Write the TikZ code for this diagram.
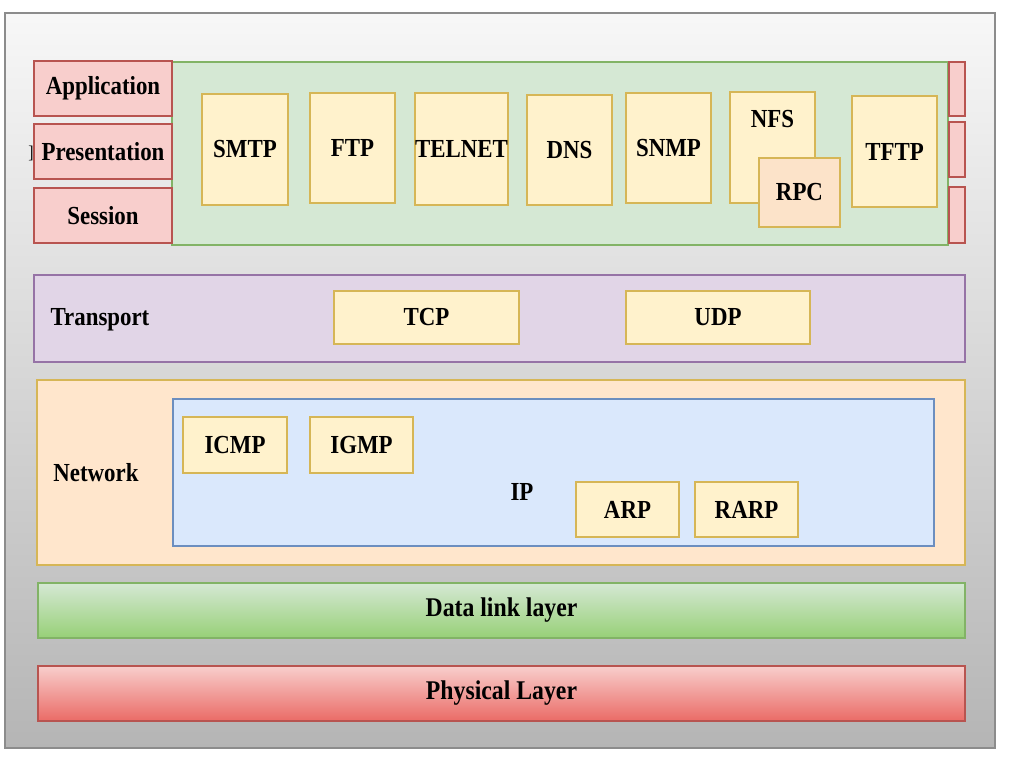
\documentclass[tikz,border=0pt]{standalone}
\usepackage{fontspec}
\setmainfont{Liberation Serif}[FakeStretch=0.88]
\usetikzlibrary{positioning, fit, calc}
\definecolor{appgreen}{HTML}{D5E8D4}
\definecolor{appgreenline}{HTML}{82B366}
\definecolor{osired}{HTML}{F8CECC}
\definecolor{osiredline}{HTML}{B85450}
\definecolor{protoyellow}{HTML}{FFF2CC}
\definecolor{protoline}{HTML}{D6B656}
\definecolor{rpcorange}{HTML}{FCE3C9}
\definecolor{transviolet}{HTML}{E1D5E7}
\definecolor{transline}{HTML}{9673A6}
\definecolor{netorange}{HTML}{FFE6CC}
\definecolor{ipblue}{HTML}{DAE8FC}
\definecolor{ipline}{HTML}{6C8EBF}
\definecolor{linkgreen}{HTML}{97D077}
\definecolor{physred}{HTML}{EA6B66}
\begin{document}
\begin{tikzpicture}[
    x=0.5pt, y=-0.5pt,
    font=\bfseries\fontsize{13}{15}\selectfont,
    frame/.style={rectangle, inner sep=0pt, draw=black!45, line width=0.6pt,
        top color=black!3, bottom color=black!29},
    appbox/.style={rectangle, inner sep=0pt, draw=appgreenline, fill=appgreen, line width=0.6pt},
    osi/.style={rectangle, inner sep=0pt, draw=osiredline, fill=osired, line width=0.6pt},
    proto/.style={rectangle, inner sep=0pt, draw=protoline, fill=protoyellow, line width=0.6pt},
    rpcbox/.style={rectangle, inner sep=0pt, draw=protoline, fill=rpcorange, line width=0.8pt},
    transbox/.style={rectangle, inner sep=0pt, draw=transline, fill=transviolet, line width=0.6pt},
    netbox/.style={rectangle, inner sep=0pt, draw=protoline, fill=netorange, line width=0.8pt},
    ipbox/.style={rectangle, inner sep=0pt, draw=ipline, fill=ipblue, line width=0.6pt},
    linkbox/.style={rectangle, inner sep=0pt, draw=appgreenline, line width=0.6pt,
        top color=appgreen, bottom color=linkgreen},
    physbox/.style={rectangle, inner sep=0pt, draw=osiredline, line width=0.6pt,
        top color=osired, bottom color=physred},
    big/.style={font=\bfseries\fontsize{13.5}{16}\selectfont},
]
\useasboundingbox (0,0) rectangle (1024,768);
\node[frame, fit={(5,13) (995,748)}] (frame) {};

% application, presentation, session
\node[appbox, fit={(172,62) (948,245)}] (app) {};
\foreach \n/\ya/\yb/\t in {appl/61/116/Application, pres/124/179/Presentation, sess/188/243/Session} {
    \node[osi, fit={(34,\ya) (172,\yb)}, label=center:\t] (\n) {};
}
\node[font=\fontsize{9}{10}\selectfont] (brk) at (31,153) {]};
\foreach \i/\ya/\yb in {1/62/116, 2/122/177, 3/187/243} {
    \node[osi, fit={(949,\ya) (965,\yb)}] (stub\i) {};
}
\foreach \n/\xa/\ya/\xb/\yb/\t in {smtp/202/94/288/205/SMTP, ftp/310/93/395/203/FTP,
    telnet/415/93/508/205/TELNET, dns/527/95/612/205/DNS, snmp/626/93/711/203/SNMP,
    tftp/852/96/937/207/TFTP} {
    \node[proto, fit={(\xa,\ya) (\xb,\yb)}, label=center:\t] (\n) {};
}
\node[proto, fit={(730,92) (815,203)}, label={[anchor=center, yshift=-14pt]north:NFS}] (nfs) {};
\node[rpcbox, fit={(759,158) (840,227)}, label=center:RPC] (rpc) {};

% transport
\node[transbox, fit={(34,275) (965,362)}] (trans) {};
\node (translbl) at (100,320) {Transport};
\node[proto, fit={(334,291) (519,344)}, label=center:TCP] (tcp) {};
\node[proto, fit={(626,291) (810,344)}, label=center:UDP] (udp) {};

% network
\node[netbox, fit={(37,380) (965,565)}] (net) {};
\node (netlbl) at (96,473) {Network};
\node[ipbox, fit={(173,399) (934,546)}] (ip) {};
\node (iplbl) at (522,492) {IP};
\foreach \n/\xa/\ya/\xb/\yb/\t in {icmp/183/417/287/473/ICMP, igmp/310/417/413/473/IGMP,
    arp/576/482/679/537/ARP, rarp/695/482/798/537/RARP} {
    \node[proto, fit={(\xa,\ya) (\xb,\yb)}, label=center:\t] (\n) {};
}

% lower layers
\node[linkbox, fit={(38,583) (965,638)}, label={[big]center:Data link layer}] (link) {};
\node[physbox, fit={(38,666) (965,721)}, label={[big]center:Physical Layer}] (phys) {};
\end{tikzpicture}
\end{document}
